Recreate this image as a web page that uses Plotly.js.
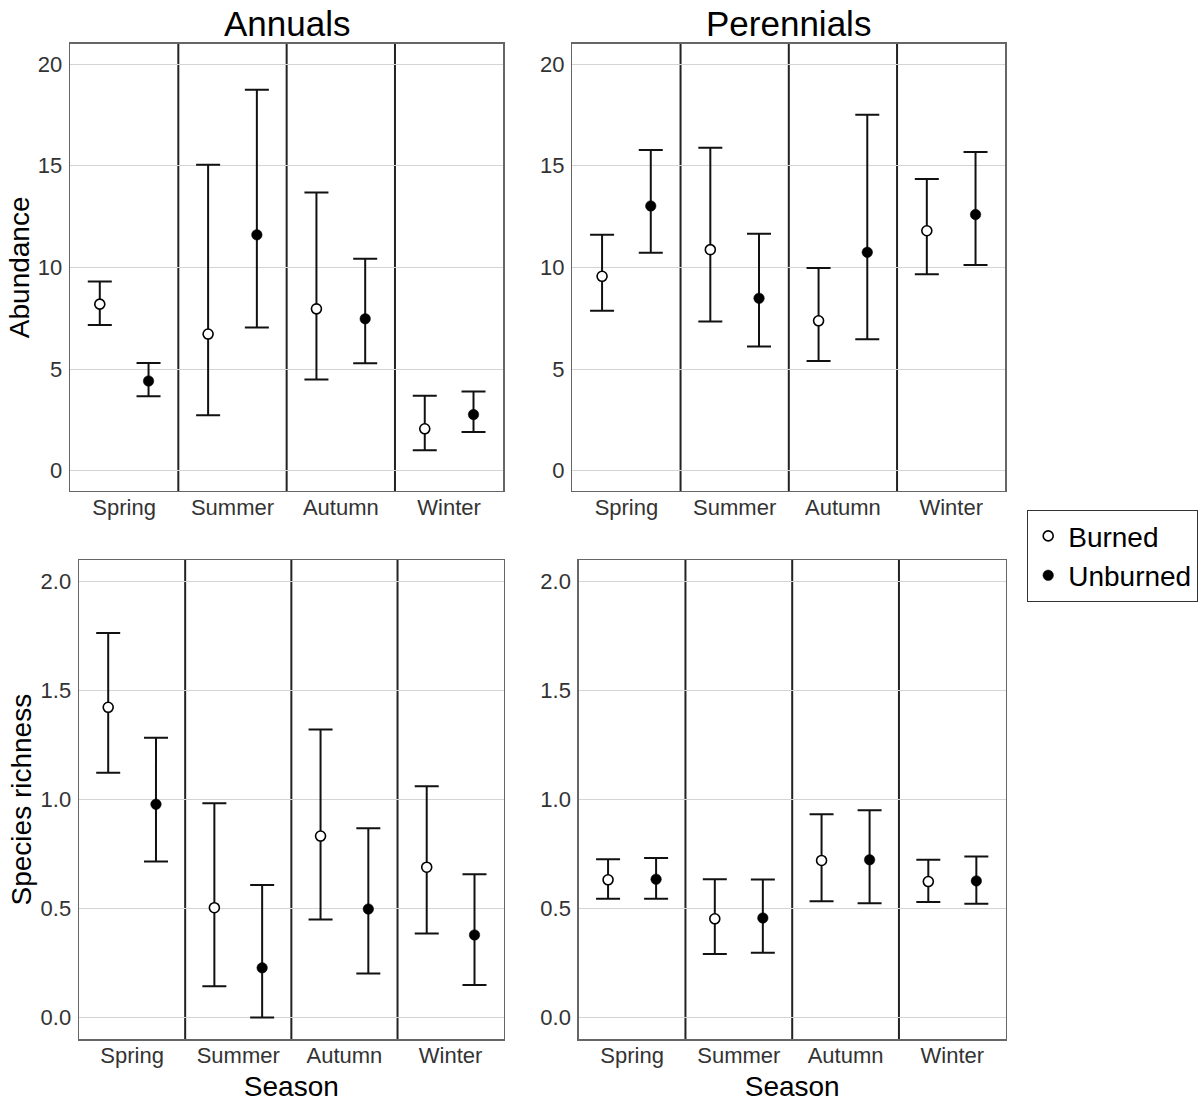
<!DOCTYPE html>
<html>
<head>
<meta charset="utf-8">
<script src="https://cdn.plot.ly/plotly-3.0.1.min.js"></script>
<style>html,body{margin:0;padding:0;background:#fff;}#chart{width:1201px;height:1102px;}</style>
</head>
<body>
<div id="chart"></div>
<script>
// ---- data ----
const seasons = ['Spring', 'Summer', 'Autumn', 'Winter'];
const groups = ['Burned', 'Unburned'];
const panelTitles = ['Annuals', 'Perennials'];
const abundanceTicks = [0, 5, 10, 15, 20];
const richnessTicks = [0, 0.5, 1.0, 1.5, 2.0];

// Annuals - Abundance
const annAbBurned      = [8.19, 6.72, 7.96, 2.06];
const annAbBurnedLo    = [7.16, 2.73, 4.49, 1.01];
const annAbBurnedHi    = [9.30, 15.05, 13.68, 3.68];
const annAbUnburned    = [4.41, 11.60, 7.47, 2.76];
const annAbUnburnedLo  = [3.66, 7.04, 5.28, 1.90];
const annAbUnburnedHi  = [5.29, 18.73, 10.42, 3.89];
// Perennials - Abundance
const perAbBurned      = [9.56, 10.87, 7.37, 11.80];
const perAbBurnedLo    = [7.86, 7.34, 5.39, 9.66];
const perAbBurnedHi    = [11.60, 15.88, 9.97, 14.35];
const perAbUnburned    = [13.02, 8.48, 10.74, 12.60];
const perAbUnburnedLo  = [10.72, 6.11, 6.46, 10.11];
const perAbUnburnedHi  = [15.77, 11.65, 17.50, 15.67];
// Annuals - Species richness
const annRiBurned      = [1.424, 0.504, 0.833, 0.690];
const annRiBurnedLo    = [1.123, 0.143, 0.450, 0.386];
const annRiBurnedHi    = [1.765, 0.984, 1.322, 1.062];
const annRiUnburned    = [0.979, 0.228, 0.498, 0.379];
const annRiUnburnedLo  = [0.716, 0.000, 0.202, 0.149];
const annRiUnburnedHi  = [1.284, 0.608, 0.869, 0.658];
// Perennials - Species richness
const perRiBurned      = [0.632, 0.453, 0.721, 0.624];
const perRiBurnedLo    = [0.545, 0.291, 0.534, 0.530];
const perRiBurnedHi    = [0.726, 0.635, 0.933, 0.724];
const perRiUnburned    = [0.635, 0.457, 0.724, 0.627];
const perRiUnburnedLo  = [0.545, 0.297, 0.524, 0.522];
const perRiUnburnedHi  = [0.732, 0.633, 0.951, 0.739];

// ---- styling ----
const FONT = 'Liberation Sans, Arial, sans-serif';
const dodge = 0.225;
const catIdx = seasons.map((s, i) => i + 1);

function mk(vals, lo, hi, grp, xa, ya, showLeg) {
  const burned = grp === 'Burned';
  return {
    type: 'scatter', mode: 'markers', name: grp, legendgroup: grp, showlegend: showLeg,
    x: catIdx.map(c => c + (burned ? -dodge : dodge)),
    y: vals,
    xaxis: xa, yaxis: ya,
    marker: burned
      ? {symbol: 'circle', size: 10, color: '#ffffff', line: {color: '#000', width: 1.6}}
      : {symbol: 'circle', size: 10.5, color: '#000000', line: {color: '#000', width: 0.5}},
    error_y: {
      type: 'data', symmetric: false,
      array: hi.map((h, i) => h - vals[i]),
      arrayminus: lo.map((l, i) => vals[i] - l),
      color: '#111', thickness: 2, width: 12
    },
    hoverinfo: 'x+y'
  };
}

const data = [
  mk(annAbBurned, annAbBurnedLo, annAbBurnedHi, 'Burned', 'x', 'y', true),
  mk(annAbUnburned, annAbUnburnedLo, annAbUnburnedHi, 'Unburned', 'x', 'y', true),
  mk(perAbBurned, perAbBurnedLo, perAbBurnedHi, 'Burned', 'x2', 'y2', false),
  mk(perAbUnburned, perAbUnburnedLo, perAbUnburnedHi, 'Unburned', 'x2', 'y2', false),
  mk(annRiBurned, annRiBurnedLo, annRiBurnedHi, 'Burned', 'x3', 'y3', false),
  mk(annRiUnburned, annRiUnburnedLo, annRiUnburnedHi, 'Unburned', 'x3', 'y3', false),
  mk(perRiBurned, perRiBurnedLo, perRiBurnedHi, 'Burned', 'x4', 'y4', false),
  mk(perRiUnburned, perRiUnburnedLo, perRiUnburnedHi, 'Unburned', 'x4', 'y4', false)
];

const W = 1201, H = 1102;
const px = v => v / W;
const py = v => 1 - v / H;

function xAxis(dom, anchor, title) {
  return {
    domain: dom, anchor: anchor, range: [0.5, 4.5],
    tickmode: 'array', tickvals: catIdx, ticktext: seasons,
    ticks: '', ticklabelstandoff: -4,
    tickfont: {family: FONT, size: 22, color: '#333'},
    showgrid: false, zeroline: false,
    showline: true, mirror: true, linecolor: '#666', linewidth: 1.4,
    title: title ? {text: title, font: {family: FONT, size: 28, color: '#000'}, standoff: 10} : {text: ''},
    fixedrange: true
  };
}
function yAxis(dom, anchor, range, ticks, fmt, title) {
  return {
    domain: dom, anchor: anchor, range: range,
    tickmode: 'array', tickvals: ticks, tickformat: fmt,
    ticks: '', ticklabelstandoff: 2,
    tickfont: {family: FONT, size: 22, color: '#333'},
    showgrid: true, gridcolor: '#d4d4d4', gridwidth: 1,
    zeroline: false,
    showline: true, mirror: true, linecolor: '#666', linewidth: 1.4,
    title: title ? {text: title, font: {family: FONT, size: 28, color: '#000'}, standoff: 0} : {text: ''},
    fixedrange: true
  };
}

const topY = [py(491), py(43.7)];
const botY = [py(1039.3), py(560)];

const layout = {
  width: W, height: H,
  margin: {l: 0, r: 0, t: 0, b: 0},
  paper_bgcolor: '#fff', plot_bgcolor: '#fff',
  font: {family: FONT, color: '#000'},
  showlegend: true,
  legend: {
    x: px(1027), y: py(510), xanchor: 'left', yanchor: 'top',
    bordercolor: '#333', borderwidth: 1.2, bgcolor: '#fff',
    font: {family: FONT, size: 28, color: '#000'},
    itemwidth: 30, tracegroupgap: 0
  },
  xaxis:  xAxis([px(70), px(503.3)], 'y', ''),
  yaxis:  yAxis(topY, 'x', [-1, 21], abundanceTicks, 'd', 'Abundance'),
  xaxis2: xAxis([px(572.3), px(1005.3)], 'y2', ''),
  yaxis2: yAxis(topY, 'x2', [-1, 21], abundanceTicks, 'd', ''),
  xaxis3: xAxis([px(79), px(503.7)], 'y3', 'Season'),
  yaxis3: yAxis(botY, 'x3', [-0.1, 2.1], richnessTicks, '.1f', 'Species richness'),
  xaxis4: xAxis([px(578.7), px(1005.7)], 'y4', 'Season'),
  yaxis4: yAxis(botY, 'x4', [-0.1, 2.1], richnessTicks, '.1f', ''),
  annotations: [
    {text: panelTitles[0], xref: 'paper', yref: 'paper', x: px(286.7), y: py(23.5), xanchor: 'center', yanchor: 'middle', showarrow: false, font: {family: FONT, size: 35, color: '#000'}},
    {text: panelTitles[1], xref: 'paper', yref: 'paper', x: px(788.8), y: py(23.5), xanchor: 'center', yanchor: 'middle', showarrow: false, font: {family: FONT, size: 35, color: '#000'}}
  ],
  shapes: []
};

// season separators at category boundaries
const axPairs = [['x', 'y'], ['x2', 'y2'], ['x3', 'y3'], ['x4', 'y4']];
axPairs.forEach(([xa, ya]) => {
  for (let i = 1; i < seasons.length; i++) {
    layout.shapes.push({
      type: 'line', xref: xa, yref: ya + ' domain',
      x0: i + 0.5, x1: i + 0.5, y0: 0, y1: 1,
      line: {color: '#222', width: 2}, layer: 'below'
    });
  }
});

Plotly.newPlot('chart', data, layout, {displayModeBar: false, staticPlot: true});
</script>
</body>
</html>
